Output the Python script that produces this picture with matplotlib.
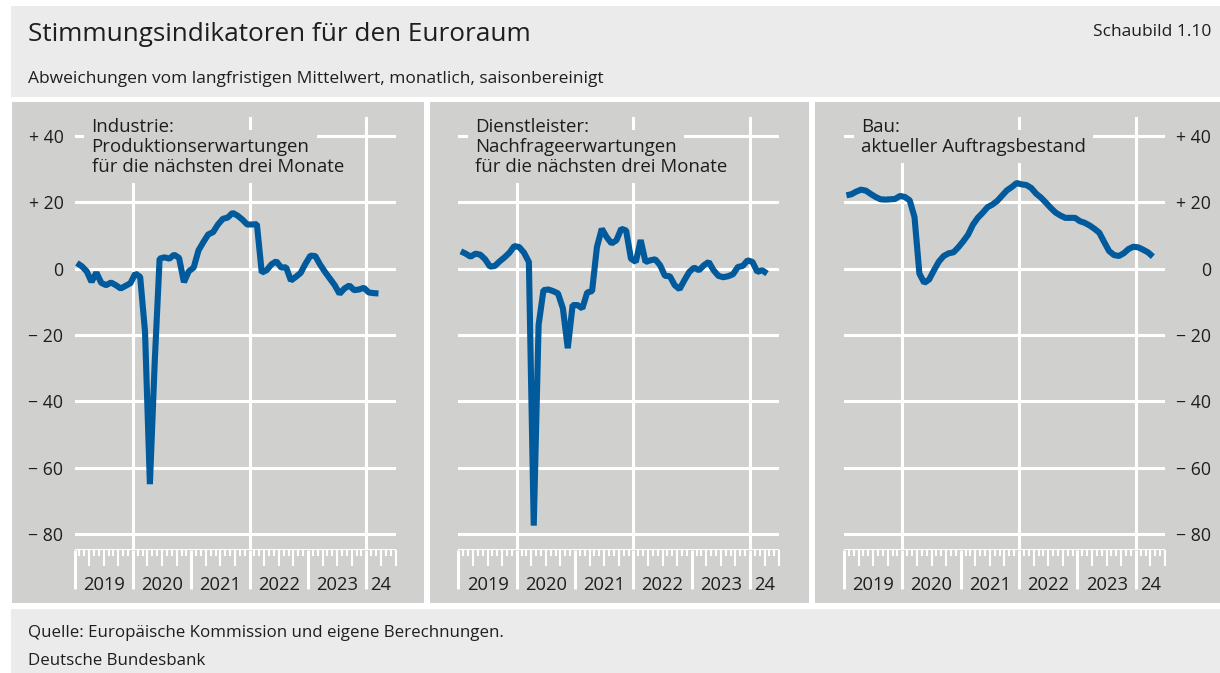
import numpy as np
import matplotlib
matplotlib.use("Agg")
import matplotlib.pyplot as plt
from matplotlib.patches import Rectangle

plt.rcParams["font.family"] = ["Open Sans", "DejaVu Sans"]

W, H = 1220, 673
BLUE = "#005A9B"; PANEL = "#D0D0CF"; HEAD = "#EBEBEB"; INK = "#1E1E1E"

# monthly values from Jan 2019, deviation from long-term mean
industrie = [1.7, 0.7, -0.8, -4.0, -1.2, -4.3, -5.0, -4.2, -5.0, -6.0, -5.2, -4.4,
             -1.5, -2.5, -19.0, -65.0, -28.0, 3.0, 3.4, 3.0, 4.2, 3.2, -4.1, -0.8,
             0.3, 5.5, 8.0, 10.3, 11.0, 13.3, 15.0, 15.4, 16.8, 16.0, 14.8, 13.3,
             13.3, 13.4, -1.2, -0.5, 1.3, 2.2, 0.3, 0.4, -3.6, -2.5, -1.3, 1.5,
             3.9, 3.8, 1.2, -1.0, -3.0, -5.0, -7.6, -6.0, -5.1, -6.5, -6.3, -5.8,
             -7.2, -7.4, -7.5]
dienstleister = [5.2, 4.5, 3.6, 4.5, 4.2, 2.8, 0.6, 0.8, 2.2, 3.4, 4.8, 6.8,
                 6.5, 4.8, 2.0, -77.5, -17.0, -6.5, -6.3, -6.8, -7.5, -12.0, -24.0, -11.0,
                 -11.0, -12.0, -7.2, -6.8, 6.5, 12.0, 9.5, 7.6, 8.5, 12.0, 11.5, 3.0,
                 2.0, 8.6, 2.0, 2.5, 2.8, 1.0, -2.2, -2.3, -5.0, -6.2, -3.5, -1.0,
                 0.3, -0.5, 1.0, 2.0, -0.5, -2.2, -2.6, -2.3, -1.7, 0.5, 0.8, 2.5,
                 2.0, -1.0, -0.5, -1.5]
bau = [22.1, 22.4, 23.2, 23.8, 23.5, 22.5, 21.6, 20.9, 20.8, 20.9, 21.0, 21.9,
       21.6, 20.6, 15.5, -1.5, -4.3, -3.3, -0.5, 2.1, 3.8, 4.6, 4.9, 6.4,
       8.2, 10.2, 13.2, 15.3, 16.8, 18.5, 19.3, 20.4, 22.0, 23.6, 24.6, 25.8,
       25.4, 25.2, 24.3, 22.6, 21.4, 19.9, 18.3, 16.9, 16.0, 15.3, 15.3, 15.3,
       14.3, 13.8, 13.0, 12.0, 10.8, 8.0, 5.3, 4.1, 3.8, 4.6, 5.9, 6.6,
       6.4, 5.7, 4.9, 3.6]

titles = [["Industrie:", "Produktionserwartungen", "für die nächsten drei Monate"],
          ["Dienstleister:", "Nachfrageerwartungen", "für die nächsten drei Monate"],
          ["Bau:", "aktueller Auftragsbestand"]]
year_labels = ["2019", "2020", "2021", "2022", "2023", "24"]
grid_years = [2020, 2022, 2024]
y_ticks = [-80, -60, -40, -20, 0, 20, 40]
y_labels = ["\u2212 80", "\u2212 60", "\u2212 40", "\u2212 20", "0", "+ 20", "+ 40"]

START = 2019
XMAX = 66  # months shown (to mid 2024)

fig = plt.figure(figsize=(W / 100, H / 100), dpi=100)
fig.patch.set_facecolor("white")


def box(x0, y0, x1, y1, color):
    fig.add_artist(Rectangle((x0 / W, 1 - y1 / H), (x1 - x0) / W, (y1 - y0) / H,
                             transform=fig.transFigure, facecolor=color,
                             edgecolor="none", zorder=-10))


# header / footer / panel backgrounds
box(11, 6, W, 97, HEAD)
box(11, 609, W, H, HEAD)
panels = [(12, 424, 74.5, 395.5, "left"), (430, 809, 458.4, 779.2, None),
          (815, W, 844, 1165, "right")]
for x0, x1, *_ in panels:
    box(x0, 102, x1, 603, PANEL)

fig.text(28 / W, 1 - 41 / H, "Stimmungsindikatoren für den Euroraum",
         fontsize=18.8, color=INK, va="baseline")
fig.text(1211 / W, 1 - 36 / H, "Schaubild 1.10", fontsize=12.5, color=INK,
         ha="right", va="baseline")
fig.text(28 / W, 1 - 83 / H,
         "Abweichungen vom langfristigen Mittelwert, monatlich, saisonbereinigt",
         fontsize=12.5, color=INK, va="baseline")
fig.text(28 / W, 1 - 637 / H, "Quelle: Europäische Kommission und eigene Berechnungen.",
         fontsize=12.2, color=INK, va="baseline")
fig.text(28 / W, 1 - 665 / H, "Deutsche Bundesbank", fontsize=12.2, color=INK,
         va="baseline")

AX_TOP, AX_BOT = 116.7, 549.5
series = [industrie, dienstleister, bau]
months = np.arange(XMAX + 1)
year_pos = months[months % 12 == 0]
quarter_pos = months[(months % 3 == 0) & (months % 12 != 0)]
month_pos = months[months % 12 != 0]
label_pos = [(a + min(a + 12, XMAX)) / 2 for a in year_pos]

for (px0, px1, ax0, ax1, side), vals, lines in zip(panels, series, titles):
    ax = fig.add_axes([ax0 / W, 1 - AX_BOT / H, (ax1 - ax0) / W, (AX_BOT - AX_TOP) / H])
    ax.set_facecolor("none")
    for s in ax.spines.values():
        s.set_visible(False)
    ax.set_xlim(0, XMAX)
    ax.set_ylim(-84.7, 45.8)

    ax.set_yticks(y_ticks, labels=y_labels)
    ax.grid(axis="y", color="white", lw=2.2)
    ax.set_axisbelow(True)
    for yr in grid_years:
        ax.axvline((yr - START) * 12, color="white", lw=2.2, zorder=1)

    if side == "left":
        ax.tick_params(axis="y", length=0, pad=8, labelsize=12.7, labelcolor=INK)
    elif side == "right":
        ax.yaxis.tick_right()
        ax.tick_params(axis="y", length=0, pad=33, labelsize=12.7, labelcolor=INK)
        for lbl in ax.get_yticklabels():
            lbl.set_horizontalalignment("right")
    else:
        ax.tick_params(axis="y", length=0, labelleft=False)

    # year / quarter / month ticks hanging below the plot
    ax.set_xticks(year_pos)
    ax.set_xticks(month_pos, minor=True)
    ax.tick_params(axis="x", which="major", length=28, width=2.2, color="white",
                   labelbottom=False)
    ax.tick_params(axis="x", which="minor", length=4.3, width=1.5, color="white")
    qax = ax.secondary_xaxis("bottom")
    qax.set_xticks(quarter_pos)
    qax.tick_params(length=11.5, width=1.5, color="white", labelbottom=False)
    qax.spines["bottom"].set_visible(False)
    lax = ax.secondary_xaxis("bottom")
    lax.set_xticks(label_pos, labels=year_labels)
    lax.tick_params(length=0, pad=19, labelsize=13.2, labelcolor=INK)
    lax.spines["bottom"].set_visible(False)

    x = np.arange(len(vals)) + 0.5
    ax.plot(x, vals, color=BLUE, lw=4.4, solid_joinstyle="bevel",
            solid_capstyle="butt", zorder=3)

    # panel caption: grey knock-out boxes first, then the words on top
    tx = ax0 + 17
    for i, line in enumerate(lines):
        ty = 1 - (131.7 + 20 * i) / H
        fig.text(tx / W, ty, line, fontsize=13.4, color="none", va="baseline",
                 zorder=4, bbox=dict(boxstyle="square,pad=0.4", fc=PANEL, ec="none"))
        fig.text(tx / W, ty, line, fontsize=13.4, color=INK, va="baseline", zorder=5)

fig.savefig("out.png", dpi=100)
